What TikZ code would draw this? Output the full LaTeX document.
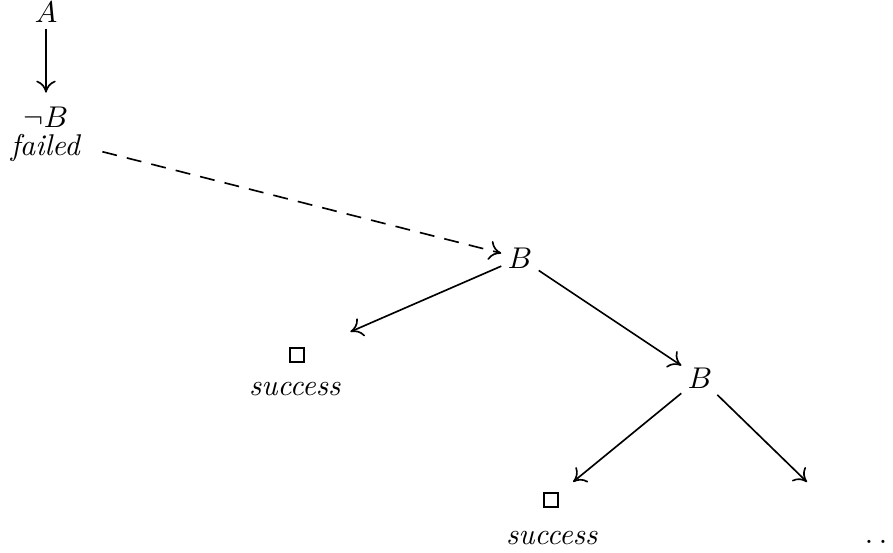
\documentclass[tikz,border=0pt]{standalone}
\usetikzlibrary{arrows.meta}
\begin{document}
\begin{tikzpicture}[x=0.33333pt,y=-0.33333pt,
  lbl/.style={inner sep=2pt},
  box/.style={draw,line width=0.55pt,minimum size=4.6pt,inner sep=0pt},
  arr/.style={-{To[length=4pt,width=6.5pt]},line width=0.55pt},
  dsh/.style={arr,dash pattern=on 5pt off 3.4pt}]
\useasboundingbox (0,0) rectangle (893,553);
\node[lbl] (A) at (46,12) {$A$};
\node[lbl] (nb) at (46,117) {$\neg B$};
\node[lbl] (f) at (46,148) {\textit{failed}};
\node[lbl] (b1) at (520,258) {$B$};
\node[box] (s1) at (297,355) {};
\node[lbl] (t1) at (295,389) {\textit{success}};
\node[lbl] (b2) at (700,378) {$B$};
\node[box] (s2) at (551,500) {};
\node[lbl] (t2) at (552,538) {\textit{success}};
\coordinate (e) at (807,482);
\node[inner sep=0pt] (dots) at (876,542) {.\hspace{1.9pt}.};
\draw[arr,shorten >=2.5pt] (A) -- (A |- nb.north);
\draw[dsh,shorten <=5pt] (f.east) -- (b1);
\draw[arr,shorten >=16.6pt] (b1) -- (s1);
\draw[arr] (b1) -- (b2);
\draw[arr,shorten >=6.2pt] (b2) -- (s2);
\draw[arr] (b2) -- (e);
\end{tikzpicture}
\end{document}
